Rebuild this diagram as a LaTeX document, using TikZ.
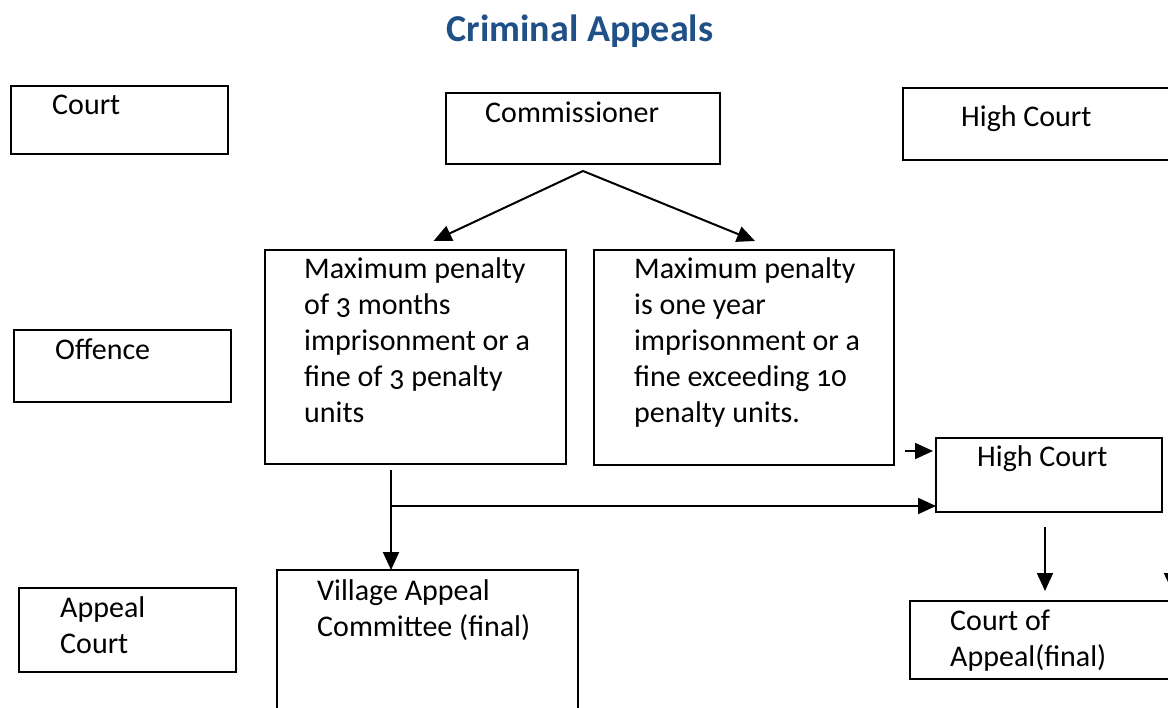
\documentclass[tikz,border=0pt]{standalone}
\usepackage{fontspec}
\setmainfont{Carlito}[Numbers=OldStyle]
\usetikzlibrary{arrows.meta,calc}
\definecolor{titleblue}{RGB}{31,80,135}
\tikzset{
  box/.style={draw, line width=2pt, inner sep=0pt, outer sep=0pt, anchor=north west},
  txt/.style={inner sep=0pt, anchor=base west, align=left, font=\fontsize{30}{36}\selectfont},
  arr/.style={line width=2pt, -{Triangle[length=18pt,width=16pt]}},
}
\begin{document}
\begin{tikzpicture}[x=1pt,y=-1pt]
\useasboundingbox (0,0) rectangle (1168,708);
\clip (0,0) rectangle (1168,708);
% title
\node[inner sep=0pt, anchor=base, font=\fontsize{38}{40}\selectfont\bfseries, text=titleblue] (title) at (580,42) {Criminal Appeals};
% boxes
\node[box, minimum width=217pt, minimum height=68pt] (court) at (11,86) {};
\node[box, minimum width=274pt, minimum height=71pt] (comm) at (446,93) {};
\node[box, minimum width=280pt, minimum height=72pt] (hc1) at (903,88) {};
\node[box, minimum width=217pt, minimum height=72pt] (off) at (14,330) {};
\node[box, minimum width=301pt, minimum height=214pt] (p1) at (265,250) {};
\node[box, minimum width=300pt, minimum height=215pt] (p2) at (594,250) {};
\node[box, minimum width=226pt, minimum height=74pt] (hc2) at (936,438) {};
\node[box, minimum width=217pt, minimum height=84pt] (ac) at (19,588) {};
\node[box, minimum width=301pt, minimum height=150pt] (vac) at (277,570) {};
\node[box, minimum width=270pt, minimum height=78pt] (coa) at (910,601) {};
% texts (base = baseline of last line)
\node[txt] (tcourt) at (52,115) {Court};
\node[txt] (tcomm) at (485,123) {Commissioner};
\node[txt] (thc1) at (961,127) {High Court};
\node[txt] (toff) at (55,360) {Offence};
\node[txt] (tp1) at (304,423) {Maximum penalty\\of 3 months\\imprisonment or a\\fine of 3 penalty\\units};
\node[txt] (tp2) at (634,423) {Maximum penalty\\is one year\\imprisonment or a\\fine exceeding 10\\penalty units.};
\node[txt] (thc2) at (977,467) {High Court};
\node[txt] (tac) at (60,653) {Appeal\\Court};
\node[txt] (tvac) at (317,636) {Village Appeal\\Committee (final)};
\node[txt] (tcoa) at (950,666) {Court of\\Appeal(final)};
% connectors
\coordinate (split) at ($(comm.south)+(0,7)$);
\draw[arr] (split) -- ($(p1.north)+(18,-9)$);
\draw[arr] (split) -- ($(p2.north)+(11,-9)$);
\coordinate (a0) at ($(p2.south east)+(11,-14)$);
\draw[arr] (a0) -- ($(hc2.north west)+(-3,13)$);
\coordinate (d0) at (391,470);
\coordinate (d1) at (391,506);
\draw[arr] (d0) -- (d0 |- vac.north);
\draw[arr] (d1) -- (d1 -| hc2.west);
\coordinate (e0) at (1045,527);
\draw[arr] (e0) -- (1045,591);
\coordinate (f0) at (1172,540);
\draw[arr] (f0) -- (1172,591);
\end{tikzpicture}
\end{document}
